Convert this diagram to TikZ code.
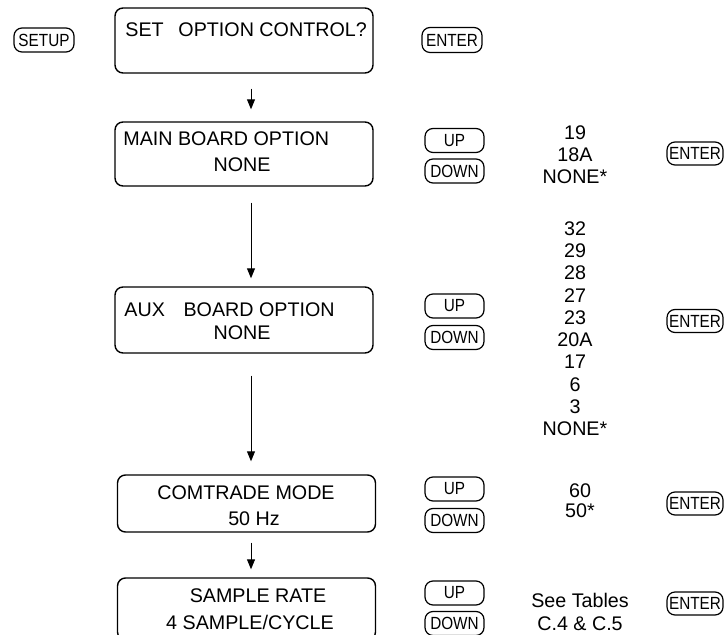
\documentclass[tikz,border=0pt]{standalone}
\usepackage{fontspec}
\setmainfont{Liberation Sans}
\newfontfamily\keyfont[FakeStretch=0.87]{Liberation Sans}
\usetikzlibrary{arrows.meta}

\tikzset{
	screen/.style={draw, line width=0.7pt, rounded corners=4pt, minimum width=129pt, inner sep=0pt},
	keybox/.style={draw, line width=0.6pt, rounded corners=4pt, inner sep=0pt, minimum width=29.5pt, minimum height=12pt, font=\keyfont\fontsize{8.8}{9}\selectfont},
	enterkey/.style={keybox, minimum width=28pt, minimum height=11.5pt},
	txt/.style={inner sep=0pt, font=\fontsize{9.85}{11.15}\selectfont},
	flow/.style={line width=0.5pt, -{Triangle[width=4pt,length=5pt]}}
}

\begin{document}
\begin{tikzpicture}[x=0.5pt, y=-0.5pt]
		\useasboundingbox (0, 0) rectangle (726, 635);

		% screens
		\node[screen, minimum height=32.5pt] (scr1) at (244, 40.5) {};
		\node[screen, minimum height=32pt] (scr2) at (244, 154) {};
		\node[screen, minimum height=33pt] (scr3) at (244, 320) {};
		\node[screen, minimum height=28.5pt] (scr4) at (246.5, 503.5) {};
		\node[screen, minimum height=31pt] (scr5) at (246.5, 609) {};

		\node[txt, anchor=base west] (t1) at (125, 37) {SET\hspace{0.75em}OPTION CONTROL?};
		\node[txt, anchor=base west] (t2a) at (123, 146) {MAIN BOARD OPTION};
		\node[txt, anchor=base] (t2b) at (242, 172) {NONE};
		\node[txt, anchor=base west] (t3a) at (124, 317) {AUX\hspace{0.95em}BOARD OPTION};
		\node[txt, anchor=base] (t3b) at (242, 340) {NONE};
		\node[txt, anchor=base] (t4a) at (246, 499) {COMTRADE MODE};
		\node[txt, anchor=base] (t4b) at (254, 525) {50 Hz};
		\node[txt, anchor=base] (t5a) at (258, 602) {SAMPLE RATE};
		\node[txt, anchor=base] (t5b) at (250, 629) {4 SAMPLE/CYCLE};

		% flow
		\draw[flow, shorten <=7.5pt, shorten >=6pt] ([xshift=3.5pt]scr1.south) -- ([xshift=3.5pt]scr2.north);
		\draw[flow, shorten <=8pt, shorten >=4pt] ([xshift=3.5pt]scr2.south) -- ([xshift=3.5pt]scr3.north);
		\draw[flow, shorten <=11pt, shorten >=6.5pt] ([xshift=3.5pt]scr3.south) -- ([xshift=2.25pt]scr4.north);
		\draw[flow, shorten <=5pt, shorten >=4pt] ([xshift=2.25pt]scr4.south) -- ([xshift=2.25pt]scr5.north);

		% keys
		\node[keybox, minimum width=30pt] (setup) at (44, 40) {SETUP};
		\node[enterkey, minimum width=30pt, minimum height=12.5pt] (enter0) at (452, 40) {ENTER};

		\node[keybox] (up1) at (454.5, 140.5) {UP};
		\node[keybox] (down1) at (454.5, 171) {DOWN};
		\node[enterkey] (enter1) at (695, 153.5) {ENTER};

		\node[keybox] (up2) at (454.5, 306) {UP};
		\node[keybox] (down2) at (454.5, 337.5) {DOWN};
		\node[enterkey] (enter2) at (695, 321) {ENTER};

		\node[keybox] (up3) at (454.5, 489) {UP};
		\node[keybox] (down3) at (454.5, 520.5) {DOWN};
		\node[enterkey] (enter3) at (695, 503.5) {ENTER};

		\node[keybox] (up4) at (454.5, 593) {UP};
		\node[keybox] (down4) at (454.5, 623.5) {DOWN};
		\node[enterkey] (enter4) at (695, 603.5) {ENTER};

		% choices
		\node[txt, align=center, anchor=north] (main) at (575, 125) {19\\18A\\NONE*};
		\node[txt, align=center, anchor=north] (aux) at (575, 221) {32\\29\\28\\27\\23\\20A\\17\\6\\3\\NONE*};
		\node[txt, anchor=base] (f60) at (580, 497.5) {60};
		\node[txt, anchor=base] (f50) at (580, 517) {50*};
		\node[txt, align=center, anchor=north, font=\fontsize{9.85}{11.5}\selectfont] (rate) at (580, 593) {See Tables\\C.4 \& C.5};
	\end{tikzpicture}
\end{document}
